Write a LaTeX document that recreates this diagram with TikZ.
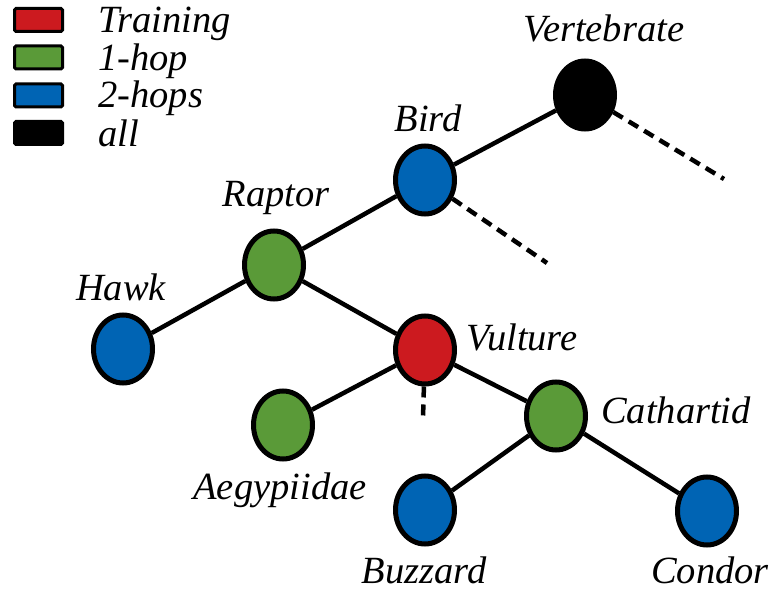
\documentclass[tikz,border=0pt]{standalone}
\usepackage{fontspec}
\setmainfont{Liberation Serif}
\usetikzlibrary{shapes.geometric}
\definecolor{trainred}{HTML}{CC1A1F}
\definecolor{hopgreen}{HTML}{5A9A38}
\definecolor{hopblue}{HTML}{0064B4}
\tikzset{
  concept/.style={ellipse, draw=black, line width=5pt, inner sep=0pt,
    minimum width=59pt, minimum height=68pt},
  lbl/.style={anchor=base, inner sep=0pt,
    font=\fontsize{38.5}{44}\selectfont\itshape},
  legtext/.style={lbl, anchor=base west},
  legbox/.style={draw=black, line width=3pt, rounded corners=1.5pt,
    minimum width=48pt, minimum height=23pt, inner sep=0pt},
  edge/.style={line width=4.5pt},
  open/.style={line width=4.5pt, dash pattern=on 11pt off 7pt}
}
\begin{document}
\begin{tikzpicture}[x=1pt, y=-1pt]
\useasboundingbox (0,0) rectangle (774,591);

% legend
\node[legbox, fill=trainred] (kTrain) at (38.5,20) {};
\node[legbox, fill=hopgreen] (kOne)   at (38.5,57.5) {};
\node[legbox, fill=hopblue]  (kTwo)   at (38.5,95.5) {};
\node[legbox, fill=black]    (kAll)   at (38.5,133) {};
\node[legtext] (tTrain) at (98,33)  {Training};
\node[legtext] (tOne)   at (98,71)  {1-hop};
\node[legtext] (tTwo)   at (98,108) {2-hops};
\node[legtext] (tAll)   at (98,147) {all};

% taxonomy nodes
\node[concept, fill=black]    (vert) at (585,95)  {};
\node[concept, fill=hopblue]  (bird) at (425,180) {};
\node[concept, fill=hopgreen] (rapt) at (274,265) {};
\node[concept, fill=hopblue]  (hawk) at (123,349) {};
\node[concept, fill=trainred] (vult) at (425,350) {};
\node[concept, fill=hopgreen] (aegy) at (283,425) {};
\node[concept, fill=hopgreen] (cath) at (556,416) {};
\node[concept, fill=hopblue]  (buzz) at (425,510) {};
\node[concept, fill=hopblue]  (cond) at (707,511) {};

% names
\node[lbl] (lVert) at (604,42)  {Vertebrate};
\node[lbl] (lBird) at (428,132) {Bird};
\node[lbl] (lRapt) at (276,207) {Raptor};
\node[lbl] (lHawk) at (121,300) {Hawk};
\node[lbl] (lVult) at (522,350) {Vulture};
\node[lbl] (lCath) at (676,423) {Cathartid};
\node[lbl] (lAegy) at (280,499) {Aegypiidae};
\node[lbl] (lBuzz) at (424,583) {Buzzard};
\node[lbl] (lCond) at (710,583) {Condor};

% hierarchy edges
\draw[edge] (vert) -- (bird);
\draw[edge] (bird) -- (rapt);
\draw[edge] (rapt) -- (hawk);
\draw[edge] (rapt) -- (vult);
\draw[edge] (vult) -- (aegy);
\draw[edge] (vult) -- (cath);
\draw[edge] (cath) -- (buzz);
\draw[edge] (cath) -- (cond);

% truncated branches
\coordinate (vertMore) at (724,179);
\coordinate (birdMore) at (547,263);
\coordinate (vultMore) at (423,418);
\draw[open] (vert) -- (vertMore);
\draw[open] (bird) -- (birdMore);
\draw[open] (vult) -- (vultMore);
\end{tikzpicture}
\end{document}
